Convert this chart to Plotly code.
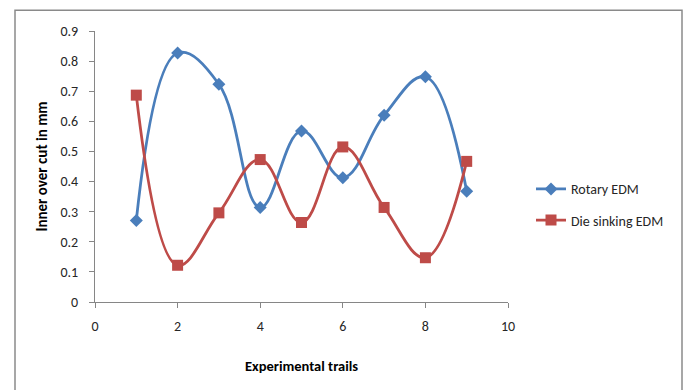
import plotly.graph_objects as go

trials = [1, 2, 3, 4, 5, 6, 7, 8, 9]
rotary_edm = [0.271, 0.827, 0.723, 0.314, 0.568, 0.413, 0.620, 0.748, 0.368]
die_sinking_edm = [0.687, 0.122, 0.296, 0.473, 0.264, 0.515, 0.314, 0.147, 0.467]

x_ticks = [0, 2, 4, 6, 8, 10]
y_ticks = [0, 0.1, 0.2, 0.3, 0.4, 0.5, 0.6, 0.7, 0.8, 0.9]

FONT = "Calibri, Carlito, Lato, 'Open Sans', sans-serif"
BLUE = "#4A7EBB"
RED = "#BE4B48"
AXIS = "#868686"
TEXT = "#262626"

fig = go.Figure()
fig.add_trace(go.Scatter(
    x=trials, y=rotary_edm, name="Rotary EDM", mode="lines+markers",
    line=dict(color=BLUE, width=2.8, shape="spline", smoothing=1.15),
    marker=dict(symbol="diamond", size=10, color=BLUE),
    legendgroup="a",
))
fig.add_trace(go.Scatter(
    x=trials, y=die_sinking_edm, name="Die sinking EDM", mode="lines+markers",
    line=dict(color=RED, width=2.8, shape="spline", smoothing=1.15),
    marker=dict(symbol="square", size=11, color=RED),
    legendgroup="b",
))

L, R, T, B = 95, 176, 31, 88
W, H = 684, 390
pw, ph = W - L - R, H - T - B

fig.update_layout(
    width=W, height=H,
    margin=dict(l=L, r=R, t=T, b=B),
    paper_bgcolor="white", plot_bgcolor="white",
    font=dict(family=FONT, size=14, color=TEXT),
    showlegend=True,
    legend=dict(
        x=(531 - L) / pw, y=(301.7 - 204.5) / ph, xanchor="left", yanchor="middle",
        font=dict(family=FONT, size=14, color=TEXT),
        tracegroupgap=10, traceorder="grouped",
        bgcolor="rgba(0,0,0,0)",
    ),
    xaxis=dict(
        range=[0, 10], tickvals=x_ticks, showgrid=False, zeroline=False,
        showline=True, linecolor=AXIS, linewidth=1,
        ticks="outside", ticklen=5, tickcolor=AXIS, ticklabelstandoff=6,
        tickfont=dict(family=FONT, size=14, color=TEXT),
        title=dict(text="<b>Experimental trails</b>", standoff=27,
                   font=dict(family=FONT, size=14.5, color="#000000")),
    ),
    yaxis=dict(
        range=[0, 0.9], tickvals=y_ticks, showgrid=False, zeroline=False,
        showline=True, linecolor=AXIS, linewidth=1,
        ticks="outside", ticklen=5, tickcolor=AXIS, ticklabelstandoff=8,
        tickfont=dict(family=FONT, size=14, color=TEXT),
        title=dict(text="<b>Inner over cut in mm</b>", standoff=9,
                   font=dict(family=FONT, size=15, color="#000000")),
    ),
    shapes=[dict(
        type="rect", xref="paper", yref="paper",
        x0=(15 - L) / pw, x1=(682 - L) / pw,
        y0=-0.5, y1=(301.7 - 10) / ph,
        line=dict(color="#8a8a8a", width=1.5), fillcolor="rgba(0,0,0,0)", layer="below",
    )],
)

fig.write_html("out.html")
